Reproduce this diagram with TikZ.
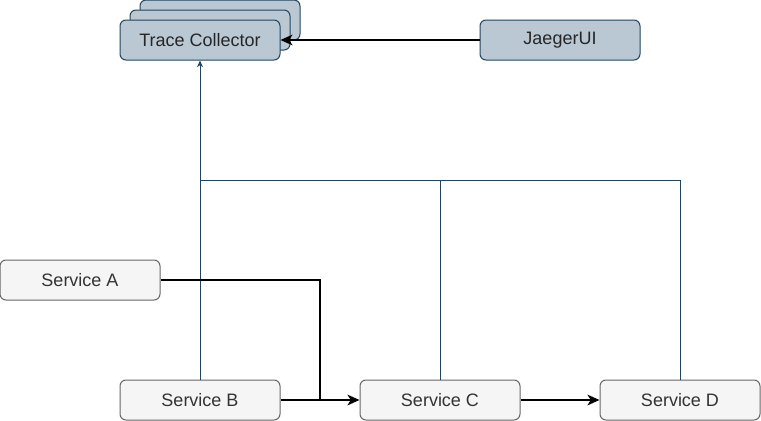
\documentclass[tikz,border=0pt]{standalone}
\usepackage{fontspec}
\setmainfont{Liberation Sans}
\usepackage{xcolor}
\usepackage{tikz}
\usetikzlibrary{shapes,arrows,arrows.meta}
\definecolor{colblue}{HTML}{BAC8D3}
\definecolor{lineblue}{HTML}{23445D}
\definecolor{colgray}{HTML}{F5F5F5}
\definecolor{linegray}{HTML}{666666}
\definecolor{textgray}{HTML}{333333}
\tikzstyle{collector} = [rectangle, draw=lineblue, fill=colblue, line width=0.75pt,
                     rounded corners=4.5pt, text=black!85, minimum width=120pt,
                     minimum height=30pt, font=\fontsize{13.5}{16}\selectfont]
\tikzstyle{service} = [rectangle, draw=linegray, fill=colgray, line width=0.75pt,
                     rounded corners=4.5pt, text=textgray, minimum width=120pt,
                     minimum height=30pt, font=\fontsize{13.5}{16}\selectfont]

\begin{document}
\begin{tikzpicture}[x=0.75pt, y=-0.75pt,
report/.style={draw=lineblue, line width=0.75pt, -{Stealth[length=5pt,width=4.5pt,inset=1.5pt]}},
call/.style={draw=black, line width=1.5pt},
callto/.style={call, -{Stealth[length=9pt,width=8pt,inset=2.5pt]}}]
\useasboundingbox (0,0) rectangle (761,421);
% Collector stack
\node [collector] at (220,20) (tc3){};
\node [collector] at (210,30) (tc2){};
\node [collector] at (200,40) (tc){Trace Collector};
\node [collector] at (560,40) (ui){JaegerUI};

% Services
\node [service] at (80,280) (sa){Service A};
\node [service] at (200,400) (sb){Service B};
\node [service] at (440,400) (sc){Service C};
\node [service] at (680,400) (sd){Service D};

% Spans to collector
\coordinate (tap) at (200,180);
\draw[report] (sb.north) -- (tc.south);
\draw[report,-] (sc.north) |- (tap);
\draw[report,-] (sd.north) |- (tap);

% Calls
\coordinate (join) at (320,400);
\draw[callto] (ui.west) -- (tc.east);
\draw[call] (sa.east) -| (join);
\draw[callto] (sb.east) -- (sc.west);
\draw[callto] (sc.east) -- (sd.west);
\end{tikzpicture}
\end{document}
